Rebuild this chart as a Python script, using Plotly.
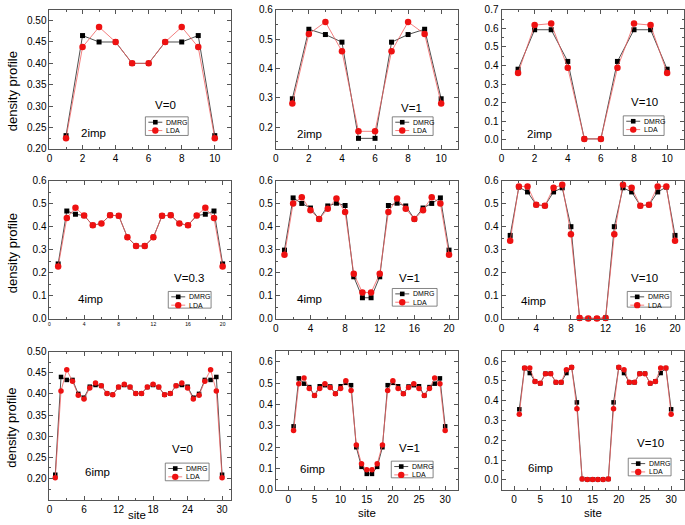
import plotly.graph_objects as go

# ---------------- data ----------------
sites10 = [1, 2, 3, 4, 5, 6, 7, 8, 9, 10]
sites20 = [1, 2, 3, 4, 5, 6, 7, 8, 9, 10, 11, 12, 13, 14, 15, 16, 17, 18, 19, 20]
sites30 = [1, 2, 3, 4, 5, 6, 7, 8, 9, 10, 11, 12, 13, 14, 15,
           16, 17, 18, 19, 20, 21, 22, 23, 24, 25, 26, 27, 28, 29, 30]

dmrg_2imp_v0 = [0.231, 0.465, 0.450, 0.450, 0.400, 0.400, 0.450, 0.450, 0.465, 0.231]
lda_2imp_v0 = [0.225, 0.438, 0.485, 0.450, 0.400, 0.400, 0.450, 0.485, 0.438, 0.225]
dmrg_2imp_v1 = [0.297, 0.534, 0.516, 0.490, 0.162, 0.162, 0.490, 0.516, 0.534, 0.297]
lda_2imp_v1 = [0.281, 0.518, 0.559, 0.459, 0.186, 0.186, 0.459, 0.559, 0.518, 0.281]
dmrg_2imp_v10 = [0.380, 0.593, 0.593, 0.422, 0.004, 0.004, 0.422, 0.593, 0.593, 0.380]
lda_2imp_v10 = [0.359, 0.618, 0.626, 0.388, 0.004, 0.004, 0.388, 0.626, 0.618, 0.359]

dmrg_4imp_v03 = [0.239, 0.469, 0.455, 0.449, 0.407, 0.415, 0.451, 0.448, 0.355, 0.317,
                 0.317, 0.355, 0.448, 0.451, 0.415, 0.407, 0.449, 0.455, 0.469, 0.239]
lda_4imp_v03 = [0.228, 0.439, 0.483, 0.449, 0.407, 0.415, 0.451, 0.448, 0.355, 0.317,
                0.317, 0.355, 0.448, 0.451, 0.415, 0.407, 0.449, 0.483, 0.439, 0.228]
dmrg_4imp_v1 = [0.299, 0.526, 0.502, 0.482, 0.434, 0.491, 0.503, 0.493, 0.183, 0.092,
                0.092, 0.183, 0.493, 0.503, 0.491, 0.434, 0.482, 0.502, 0.526, 0.299]
lda_4imp_v1 = [0.279, 0.502, 0.529, 0.472, 0.434, 0.479, 0.523, 0.465, 0.196, 0.115,
               0.115, 0.196, 0.465, 0.523, 0.479, 0.434, 0.472, 0.529, 0.502, 0.279]
dmrg_4imp_v10 = [0.363, 0.573, 0.552, 0.496, 0.492, 0.552, 0.570, 0.401, 0.004, 0.002,
                 0.002, 0.004, 0.401, 0.570, 0.552, 0.492, 0.496, 0.552, 0.573, 0.363]
lda_4imp_v10 = [0.340, 0.576, 0.576, 0.496, 0.492, 0.570, 0.583, 0.368, 0.004, 0.002,
                0.002, 0.004, 0.368, 0.583, 0.570, 0.492, 0.496, 0.576, 0.576, 0.340]

dmrg_6imp_v0 = [0.209, 0.440, 0.433, 0.433, 0.400, 0.391, 0.417, 0.421, 0.419, 0.401,
                0.398, 0.416, 0.421, 0.416, 0.401, 0.401, 0.416, 0.421, 0.416, 0.398,
                0.401, 0.419, 0.421, 0.417, 0.391, 0.400, 0.433, 0.433, 0.440, 0.209]
lda_6imp_v0 = [0.202, 0.407, 0.457, 0.430, 0.397, 0.388, 0.414, 0.426, 0.419, 0.401,
               0.398, 0.416, 0.423, 0.416, 0.401, 0.401, 0.416, 0.423, 0.416, 0.398,
               0.401, 0.419, 0.426, 0.414, 0.388, 0.397, 0.430, 0.457, 0.407, 0.202]
dmrg_6imp_v1 = [0.298, 0.523, 0.498, 0.482, 0.443, 0.486, 0.491, 0.485, 0.451, 0.486,
                0.502, 0.491, 0.200, 0.108, 0.075, 0.075, 0.108, 0.200, 0.491, 0.502,
                0.486, 0.451, 0.485, 0.491, 0.486, 0.443, 0.482, 0.498, 0.523, 0.298]
lda_6imp_v1 = [0.278, 0.498, 0.525, 0.475, 0.443, 0.475, 0.498, 0.480, 0.451, 0.475,
               0.512, 0.466, 0.211, 0.122, 0.094, 0.094, 0.122, 0.211, 0.466, 0.512,
               0.475, 0.451, 0.480, 0.498, 0.475, 0.443, 0.475, 0.525, 0.498, 0.278]
dmrg_6imp_v10 = [0.357, 0.565, 0.540, 0.498, 0.488, 0.537, 0.537, 0.493, 0.493, 0.540,
                 0.569, 0.392, 0.005, 0.003, 0.003, 0.003, 0.003, 0.005, 0.392, 0.569,
                 0.540, 0.493, 0.493, 0.537, 0.537, 0.488, 0.498, 0.540, 0.565, 0.357]
lda_6imp_v10 = [0.332, 0.565, 0.565, 0.498, 0.488, 0.537, 0.537, 0.493, 0.493, 0.557,
                0.569, 0.360, 0.005, 0.003, 0.003, 0.003, 0.003, 0.005, 0.360, 0.569,
                0.557, 0.493, 0.493, 0.537, 0.537, 0.488, 0.498, 0.565, 0.565, 0.332]

v_labels = ["V=0", "V=1", "V=10", "V=0.3", "V=1", "V=10", "V=0", "V=1", "V=10"]
imp_labels = ["2imp", "2imp", "2imp", "4imp", "4imp", "4imp", "6imp", "6imp", "6imp"]
series_names = ["DMRG", "LDA"]
y_title = "density profile"
x_title = "site"

# ---------------- layout geometry (pixels) ----------------
W, H = 685, 525
cols = [(46.7, 229.3), (274.0, 456.7), (500.7, 683.7)]
panel_rows = [
    [(5.0, 146.7), (5.0, 146.7), (5.0, 146.7)],
    [(179.3, 320.0), (179.3, 320.0), (179.3, 320.0)],
    [(353.3, 504.3), (353.0, 494.3), (353.0, 494.3)],
]

panels = [
    (sites10, dmrg_2imp_v0, lda_2imp_v0, [0, 11], [0.2, 0.525], [0, 2, 4, 6, 8, 10], [0.20, 0.25, 0.30, 0.35, 0.40, 0.45, 0.50], ".2f", 10),
    (sites10, dmrg_2imp_v1, lda_2imp_v1, [0, 11], [0.126, 0.6], [0, 2, 4, 6, 8, 10], [0.2, 0.3, 0.4, 0.5, 0.6], ".1f", 10),
    (sites10, dmrg_2imp_v10, lda_2imp_v10, [0, 11], [-0.05, 0.7], [0, 2, 4, 6, 8, 10], [0.0, 0.1, 0.2, 0.3, 0.4, 0.5, 0.6, 0.7], ".1f", 10),
    (sites20, dmrg_4imp_v03, lda_4imp_v03, [0, 21], [0, 0.6], [0, 4, 8, 12, 16, 20], [0.0, 0.1, 0.2, 0.3, 0.4, 0.5, 0.6], ".1f", 5),
    (sites20, dmrg_4imp_v1, lda_4imp_v1, [0, 21], [0, 0.6], [0, 4, 8, 12, 16, 20], [0.0, 0.1, 0.2, 0.3, 0.4, 0.5, 0.6], ".1f", 10),
    (sites20, dmrg_4imp_v10, lda_4imp_v10, [0, 21], [0, 0.6], [0, 4, 8, 12, 16, 20], [0.0, 0.1, 0.2, 0.3, 0.4, 0.5, 0.6], ".1f", 10),
    (sites30, dmrg_6imp_v0, lda_6imp_v0, [0, 31.6], [0.15, 0.5], [0, 6, 12, 18, 24, 30], [0.20, 0.25, 0.30, 0.35, 0.40, 0.45, 0.50], ".2f", 10),
    (sites30, dmrg_6imp_v1, lda_6imp_v1, [-2.4, 32.4], [0, 0.65], [0, 5, 10, 15, 20, 25, 30], [0.0, 0.1, 0.2, 0.3, 0.4, 0.5, 0.6], ".1f", 10),
    (sites30, dmrg_6imp_v10, lda_6imp_v10, [-2.4, 32.4], [-0.05, 0.65], [0, 5, 10, 15, 20, 25, 30], [0.0, 0.1, 0.2, 0.3, 0.4, 0.5, 0.6], ".1f", 10),
]

# annotation centers (pixels)
v_pos = [(163, 102), (410, 105), (644, 99), (187, 278), (408, 278), (644, 278), (180, 453), (408, 452), (650, 447)]
imp_pos = [(91, 130), (308, 132), (539, 132), (88, 300), (308, 300), (533, 302), (95, 476), (311, 473), (540, 472)]
legend_boxes = [(143, 114, 186, 133), (391, 114, 432, 133), (623, 113, 664, 133),
                (166, 292, 209, 309), (391, 289, 436, 307), (627, 292, 671, 308),
                (163, 467, 207, 485), (390, 465, 432, 482), (628, 462, 671, 480)]

FONT = "Liberation Sans, Arial, sans-serif"
BLACK = "#000000"
RED = "#ee1111"
RED_LINE = "#f06060"

def px(x):
    return x / W

def py(y):
    return 1 - y / H

fig = go.Figure()
layout = dict(width=W, height=H, margin=dict(l=0, r=0, t=0, b=0),
              paper_bgcolor="white", plot_bgcolor="white", showlegend=False,
              font=dict(family=FONT, color=BLACK))
shapes = []
annotations = []

for i, (xs, dm, ld, xr, yr, xt, yt, yfmt, xfs) in enumerate(panels):
    r, c = divmod(i, 3)
    n = i + 1
    xa = "x" if n == 1 else f"x{n}"
    ya = "y" if n == 1 else f"y{n}"
    msq = 5 if r < 2 else 4.5
    mci = 6.5 if r < 2 else 5.5
    fig.add_trace(go.Scatter(x=xs, y=dm, mode="lines+markers", name=series_names[0],
                             xaxis=xa, yaxis=ya, cliponaxis=False,
                             line=dict(color="#222222", width=0.8),
                             marker=dict(symbol="square", size=msq, color=BLACK)))
    fig.add_trace(go.Scatter(x=xs, y=ld, mode="lines+markers", name=series_names[1],
                             xaxis=xa, yaxis=ya, cliponaxis=False,
                             line=dict(color=RED_LINE, width=0.8),
                             marker=dict(symbol="circle", size=mci, color=RED)))
    x0, x1 = cols[c]
    top, bot = panel_rows[r][c]
    axcommon = dict(showline=True, linecolor="#555555", linewidth=1, mirror="ticks",
                    ticks="inside", ticklen=4, tickcolor="#555555", showgrid=False,
                    zeroline=False)
    layout["xaxis" if n == 1 else f"xaxis{n}"] = dict(
        domain=[px(x0), px(x1)], range=xr, anchor=ya, tickvals=xt,
        tickfont=dict(size=xfs, color=BLACK),
        minor=dict(ticks="inside", ticklen=2, tickcolor="#555555", dtick=(xt[1] - xt[0]) / 2, tick0=0),
        **axcommon)
    layout["yaxis" if n == 1 else f"yaxis{n}"] = dict(
        domain=[py(bot), py(top)], range=yr, anchor=xa, tickvals=yt, tickformat=yfmt,
        tickfont=dict(size=10, color=BLACK),
        minor=dict(ticks="inside", ticklen=2, tickcolor="#555555", dtick=(yt[1] - yt[0]) / 2, tick0=0),
        **axcommon)

    # text labels
    vx, vy = v_pos[i]
    annotations.append(dict(x=px(vx), y=py(vy), xref="paper", yref="paper", text=v_labels[i],
                            showarrow=False, font=dict(size=11.5, color=BLACK),
                            xanchor="center", yanchor="middle"))
    ix, iy = imp_pos[i]
    annotations.append(dict(x=px(ix), y=py(iy), xref="paper", yref="paper", text=imp_labels[i],
                            showarrow=False, font=dict(size=11.5, color=BLACK),
                            xanchor="center", yanchor="middle"))

    # legend box
    bl, bt, br, bb = legend_boxes[i]
    shapes.append(dict(type="rect", xref="paper", yref="paper", x0=px(bl), x1=px(br),
                       y0=py(bb), y1=py(bt), line=dict(color="#666666", width=0.8),
                       fillcolor="white", layer="above"))
    rows_y = [bt + 5.5, bt + 14]
    for k, (col, lcol) in enumerate([(BLACK, "#222222"), (RED, RED_LINE)]):
        yy = rows_y[k]
        shapes.append(dict(type="line", xref="paper", yref="paper", x0=px(bl + 3), x1=px(bl + 17),
                           y0=py(yy), y1=py(yy), line=dict(color=lcol, width=0.8), layer="above"))
        if k == 0:
            s = 2.3
            shapes.append(dict(type="rect", xref="paper", yref="paper", xsizemode="pixel", ysizemode="pixel",
                               xanchor=px(bl + 10), yanchor=py(yy), x0=-s, x1=s, y0=-s, y1=s,
                               fillcolor=BLACK, line=dict(width=0), layer="above"))
        else:
            s = 3.2
            shapes.append(dict(type="circle", xref="paper", yref="paper", xsizemode="pixel", ysizemode="pixel",
                               xanchor=px(bl + 10), yanchor=py(yy), x0=-s, x1=s, y0=-s, y1=s,
                               fillcolor=RED, line=dict(width=0), layer="above"))
        annotations.append(dict(x=px(bl + 19), y=py(yy), xref="paper", yref="paper",
                                text=series_names[k], showarrow=False, xanchor="left", yanchor="middle",
                                font=dict(size=7, color=BLACK)))

# axis titles
for yc in [88, 253, 431]:
    annotations.append(dict(x=px(9), y=py(yc), xref="paper", yref="paper", text=y_title,
                            textangle=-90, showarrow=False, xanchor="center", yanchor="middle",
                            font=dict(size=13, color=BLACK)))
for xc, yc in [(135, 519.5), (365.5, 518), (592.5, 518)]:
    annotations.append(dict(x=px(xc), y=py(yc), xref="paper", yref="paper", text=x_title,
                            showarrow=False, xanchor="center", yanchor="middle",
                            font=dict(size=11.5, color=BLACK)))

layout["shapes"] = shapes
layout["annotations"] = annotations
fig.update_layout(**layout)
fig.write_html("out.html", config={"displayModeBar": False},
               post_script="document.body.style.margin='0';document.body.style.overflow='hidden';")
